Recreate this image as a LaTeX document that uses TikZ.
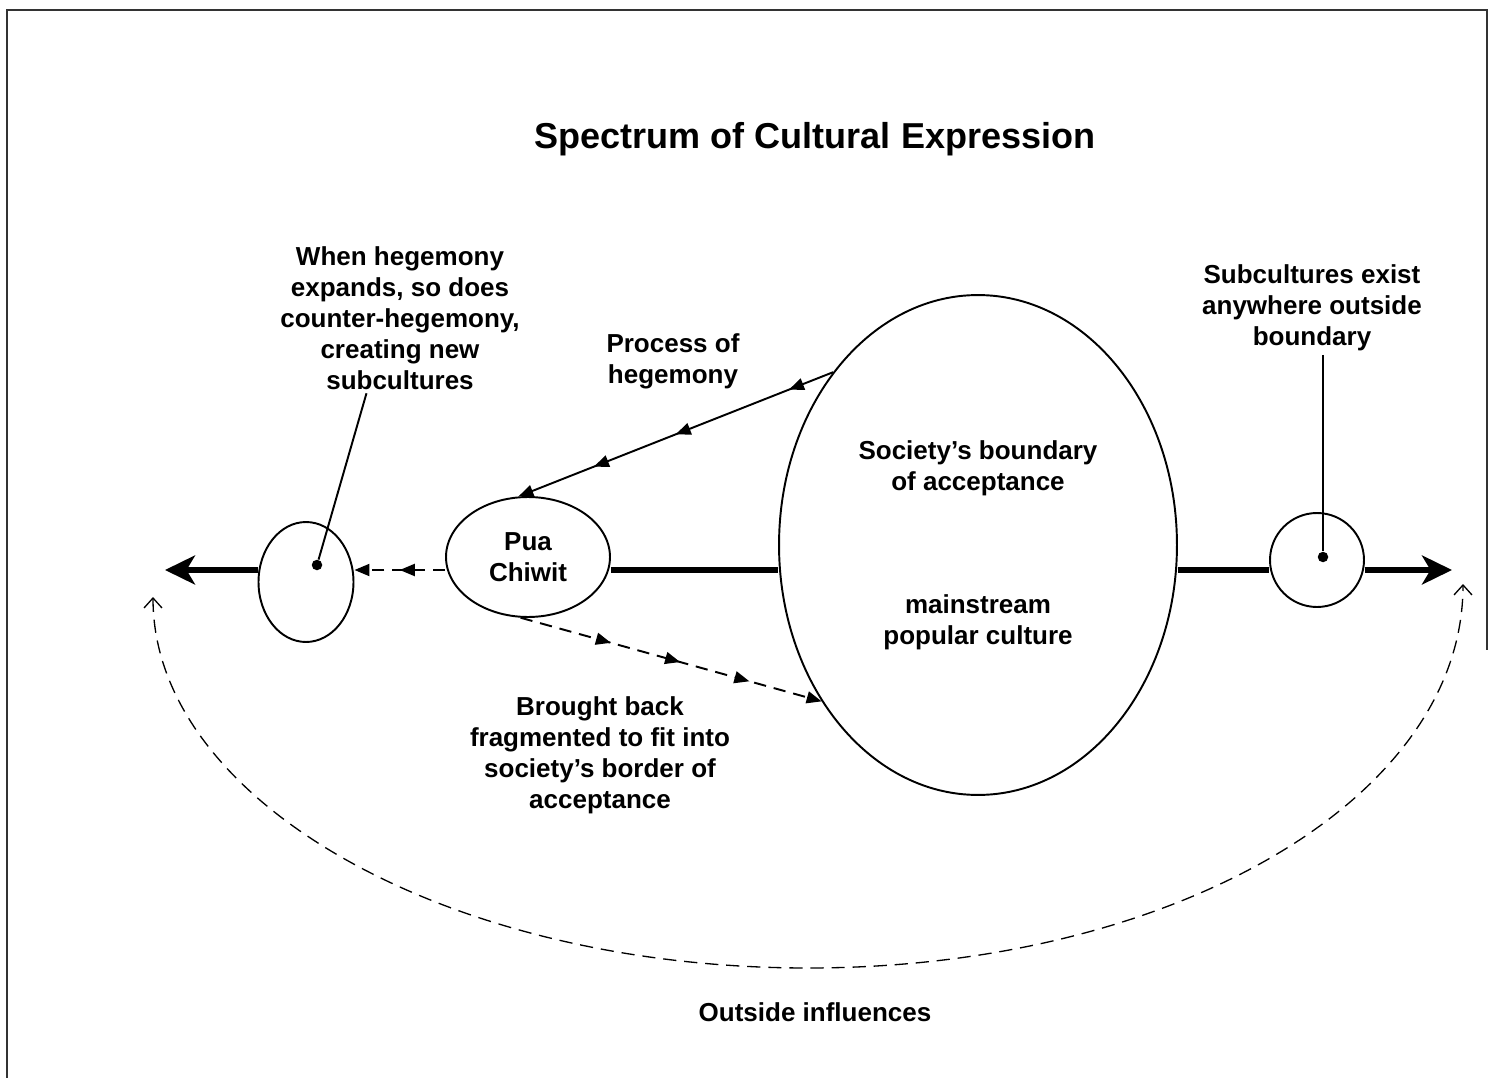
\documentclass[tikz,border=0pt]{standalone}
\usepackage{fontspec}
\setmainfont{Liberation Sans}
\usetikzlibrary{arrows.meta,shapes.geometric,decorations.markings,positioning}
\newcommand{\BodyFont}{\fontsize{14.8}{17.6}\selectfont\bfseries}
\newcommand{\TitleFont}{\fontsize{20.5}{24}\selectfont\bfseries}

\begin{document}
\begin{tikzpicture}[x=0.02cm,y=-0.02cm,
  txt/.style={align=center,font=\BodyFont,inner sep=2pt},
  blob/.style={ellipse,draw,line width=1.1pt,inner sep=0pt,fill=white},
  dot/.style={circle,fill,inner sep=0pt,minimum size=0.21cm},
  axisline/.style={line width=2.9pt},
  axistip/.style={axisline,-{Stealth[length=0.6cm,width=0.58cm,inset=0.17cm]}},
  thin/.style={line width=1.1pt},
  tri/.tip={Triangle[length=0.3cm,width=0.24cm]},
  dash7/.style={dash pattern=on 7pt off 4.5pt},
  outarc/.style={line width=0.75pt,dash pattern=on 7.5pt off 4.5pt,{Straight Barb[length=0.2cm,width=0.36cm]}-{Straight Barb[length=0.2cm,width=0.36cm]}}]
\useasboundingbox (0,0) rectangle (1489,1078);
\draw[line width=1pt,black!80] (7,1078) -- (7,10) -- (1487,10) -- (1487,650);

\node[font=\TitleFont] (title) at (815,139) {Spectrum of Cultural Expression};

\coordinate (tipL) at (165,570);
\coordinate (tipR) at (1452,570);
\node[blob,minimum width=1.9cm,minimum height=2.4cm] (leftE) at (306,582) {};
\node[blob,minimum width=3.28cm,minimum height=2.4cm,font=\BodyFont,align=center] (pua) at (528,557) {Pua\\Chiwit};
\node[blob,minimum width=7.96cm,minimum height=10cm] (big) at (978,545) {};
\node[circle,draw,line width=1.1pt,inner sep=0pt,minimum size=1.88cm] (rightC) at (1317,560) {};
\node[dot] (ldot) at (317,565) {};
\node[dot] (rdot) at (1323,557) {};

\node[txt] (socTxt) at (978,468) {Society’s boundary\\of acceptance};
\node[txt] (mainTxt) at (978,622) {mainstream\\popular culture};
\node[txt] (whenTxt) at (400,318) {When hegemony\\expands, so does\\counter-hegemony,\\creating new\\subcultures};
\node[txt] (procTxt) at (673,361) {Process of\\hegemony};
\node[txt] (subTxt) at (1312,308) {Subcultures exist\\anywhere outside\\boundary};
\node[txt] (backTxt) at (600,755) {Brought back\\fragmented to fit into\\society’s border of\\acceptance};
\node[txt] (outTxt) at (815,1012) {Outside influences};

\draw[axistip] (leftE.west |- tipL) -- (tipL);
\draw[axisline] (pua.east |- tipL) -- (big.west |- tipL);
\draw[axisline] (big.east |- tipL) -- (rightC.west |- tipL);
\draw[axistip] (rightC.east |- tipR) -- (tipR);

\draw[thin,dash7,-tri,postaction={decorate},decoration={markings,mark=at position 0.5 with {\arrow{tri}}}] (pua.west |- tipL) -- (leftE.east |- tipL);
\draw[thin,-tri,postaction={decorate},decoration={markings,
  mark=at position 0.14 with {\arrow{tri}},
  mark=at position 0.5 with {\arrow{tri}},
  mark=at position 0.76 with {\arrow{tri}}}] (big.130) -- (pua.99);
\draw[thin,dash7,-tri,postaction={decorate},decoration={markings,
  mark=at position 0.3 with {\arrow{tri}},
  mark=at position 0.53 with {\arrow{tri}},
  mark=at position 0.76 with {\arrow{tri}}}] (pua.-97) -- (big.-135);

\draw[thin] (whenTxt.-114) -- (ldot);
\draw[thin] (rdot |- subTxt.south) -- (rdot);

\draw[outarc] (153,597) .. controls (153,800) and (445,968) .. (808,968) .. controls (1171,968) and (1463,800) .. (1463,584);
\end{tikzpicture}
\end{document}
